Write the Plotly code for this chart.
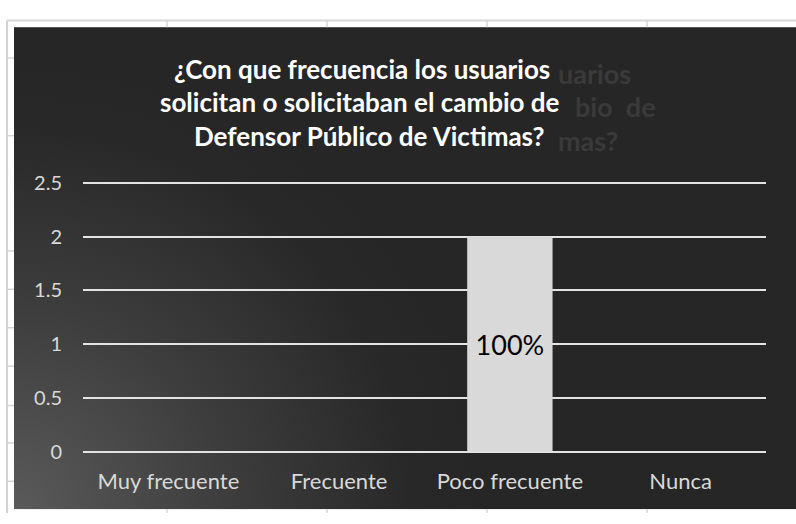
import base64
import plotly.graph_objects as go

categories = ["Muy frecuente", "Frecuente", "Poco frecuente", "Nunca"]
values = [0, 0, 2, 0]
bar_labels = ["", "", "100%", ""]
y_ticks = [0, 0.5, 1, 1.5, 2, 2.5]
y_tick_text = ["0", "0.5", "1", "1.5", "2", "2.5"]
title_lines = [
    "¿Con que frecuencia los usuarios",
    "solicitan o solicitaban el cambio de",
    "Defensor Público de Victimas?",
]
ghost_parts = ["uarios", "bio  de", "mas?"]

W, H = 796, 524
FONT = "Lato"

def px_x(p):
    return p / W

def px_y(p):
    return 1 - p / H

# dark chart-area background with a radial gradient (bottom-left lighter)
svg = (
    '<svg xmlns="http://www.w3.org/2000/svg" width="782" height="502">'
    '<defs><radialGradient id="g" gradientUnits="userSpaceOnUse" cx="0" cy="502" r="470">'
    '<stop offset="0" stop-color="#5a5a5a"/>'
    '<stop offset="0.45" stop-color="#3d3d3d"/>'
    '<stop offset="0.85" stop-color="#282828"/>'
    '<stop offset="1" stop-color="#262626"/>'
    '</radialGradient></defs>'
    '<rect width="782" height="502" fill="#262626"/>'
    '<rect width="782" height="502" fill="url(#g)"/>'
    '</svg>'
)
svg_uri = "data:image/svg+xml;base64," + base64.b64encode(svg.encode()).decode()

fig = go.Figure()
fig.add_trace(go.Bar(
    x=categories,
    y=values,
    text=bar_labels,
    textposition="inside",
    insidetextanchor="middle",
    textfont=dict(family=FONT, size=27, color="#000000"),
    marker=dict(color="#d9d9d9", line=dict(width=0)),
    width=0.5,
    hoverinfo="skip",
    showlegend=False,
))

# spreadsheet cell lines around the chart
shapes = []
grey = "#d4d4d4"
shapes.append(dict(type="line", xref="paper", yref="paper", x0=px_x(7), x1=1, y0=px_y(11), y1=px_y(11),
                   line=dict(color=grey, width=2), layer="below"))
shapes.append(dict(type="line", xref="paper", yref="paper", x0=px_x(7), x1=px_x(7), y0=px_y(11), y1=0,
                   line=dict(color=grey, width=2), layer="below"))
for xv in [167, 327, 487, 647]:
    shapes.append(dict(type="line", xref="paper", yref="paper", x0=px_x(xv), x1=px_x(xv), y0=px_y(11), y1=px_y(18),
                       line=dict(color=grey, width=1.5), layer="below"))
    shapes.append(dict(type="line", xref="paper", yref="paper", x0=px_x(xv), x1=px_x(xv), y0=px_y(520), y1=0,
                       line=dict(color=grey, width=1.5), layer="below"))
for yv in [50, 131, 251, 291, 331, 371, 412, 451, 491]:
    shapes.append(dict(type="line", xref="paper", yref="paper", x0=px_x(7), x1=px_x(14), y0=px_y(yv), y1=px_y(yv),
                       line=dict(color=grey, width=1.5), layer="below"))

annotations = []
ghost_pos = [(556, 66), (573, 101), (556, 136)]
for part, (gx, gy) in zip(ghost_parts, ghost_pos):
    annotations.append(dict(text="<b>" + part + "</b>", xref="paper", yref="paper", x=px_x(gx), y=px_y(gy),
                            xanchor="left", yanchor="middle", showarrow=False,
                            font=dict(family=FONT, size=27, color="#3a3a3a")))
title_centers = [(362, 61), (360, 96), (369, 131)]
for line, (cx, cy) in zip(title_lines, title_centers):
    annotations.append(dict(text="<b>" + line + "</b>", xref="paper", yref="paper", x=px_x(cx), y=px_y(cy),
                            xanchor="center", yanchor="middle", showarrow=False,
                            font=dict(family=FONT, size=26, color="#ffffff")))

top_val = 2.53
top_px = 460 - top_val / 2.5 * 280

fig.update_layout(
    width=W, height=H,
    margin=dict(l=0, r=0, t=0, b=0),
    paper_bgcolor="#ffffff",
    plot_bgcolor="rgba(0,0,0,0)",
    images=[dict(source=svg_uri, xref="paper", yref="paper", x=px_x(14), y=px_y(18),
                 sizex=782 / W, sizey=502 / H, sizing="stretch", xanchor="left", yanchor="top",
                 layer="below")],
    shapes=shapes,
    annotations=annotations,
    bargap=0.5,
    xaxis=dict(domain=[px_x(83), px_x(766)], showgrid=False, zeroline=False, showline=False,
               ticks="", tickfont=dict(family=FONT, size=22, color="#d9d9d9"),
               ticklabelstandoff=14, fixedrange=True),
    yaxis=dict(domain=[px_y(460), px_y(top_px)], range=[0, top_val], tickvals=y_ticks, ticktext=y_tick_text,
               showgrid=True, gridcolor="#e3e3e3", gridwidth=2,
               zeroline=True, zerolinecolor="#e3e3e3", zerolinewidth=2, showline=False,
               ticks="", tickfont=dict(family=FONT, size=20, color="#d9d9d9"),
               ticklabelstandoff=20, fixedrange=True),
)

post = (
    "document.documentElement.style.margin='0';"
    "document.body.style.margin='0';document.body.style.padding='0';"
    "document.body.style.overflow='hidden';"
    "var gd=document.getElementById('{plot_id}');"
    "gd.style.position='absolute';gd.style.left='0px';gd.style.top='0px';"
)
fig.write_html("out.html", post_script=post, config=dict(displayModeBar=False))
